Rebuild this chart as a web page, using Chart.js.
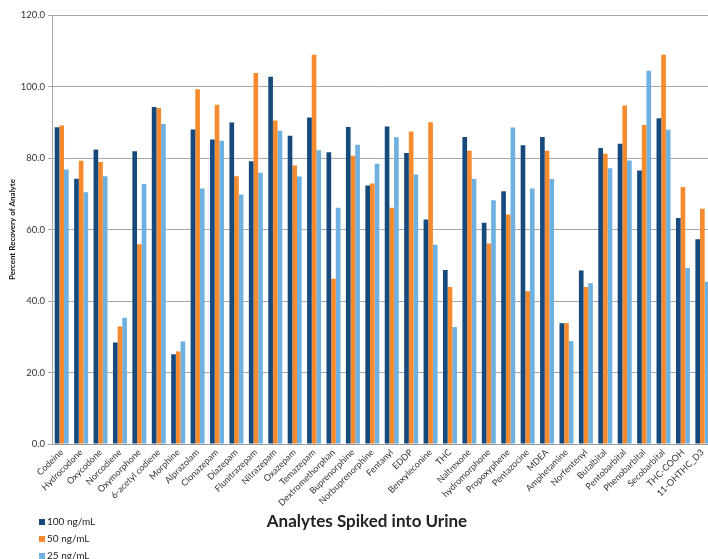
<!DOCTYPE html>
<html>
<head>
<meta charset="utf-8">
<script src="https://cdn.jsdelivr.net/npm/chart.js@4.4.1/dist/chart.umd.min.js"></script>
<style>
  html, body { margin: 0; padding: 0; background: #fff; overflow: hidden; width: 708px; height: 559px; }
  #wrap { position: absolute; left: 0; top: 0; width: 713px; height: 559px; }
  #legend { position: absolute; left: 39px; top: 515px; font-family: Lato, "Liberation Sans", sans-serif; font-size: 10px; color: #222; }
  .item { position: absolute; left: 0; white-space: nowrap; height: 12px; line-height: 12px; }
  .box { display: inline-block; width: 6px; height: 6px; margin-right: 2px; vertical-align: 0px; }
</style>
</head>
<body>
<div id="wrap"><canvas id="c"></canvas></div>
<div id="legend"></div>
<script>
const categories = ["Codeine","Hydrocodone","Oxycodone","Norcodiene","Oxymorphone","6-acetyl codiene","Morphine","Alprazolam","Clonazepam","Diazepam","Flunitrazepam","Nitrazepam","Oxazepam","Temazepam","Dextromethorphan","Buprenorphine","Norbuprenorphine","Fentanyl","EDDP","Benxyleconine","THC","Naltrexone","hydromorphone","Propoxyphene","Pentazocine","MDEA","Amphetamine","Norfentenyl","Butalbital","Pentobarbital","Phenobarbital","Secobarbital","THC-COOH","11-OHTHC_D3"];
const seriesNames = ["100 ng/mL","50 ng/mL","25 ng/mL"];
const s100 = [88.6,74.2,82.4,28.4,81.9,94.3,25.1,88.0,85.2,89.9,79.1,102.7,86.2,91.3,81.6,88.7,72.3,88.8,81.4,62.8,48.7,85.9,61.9,70.7,83.6,85.9,33.8,48.5,82.8,84.0,76.5,91.1,63.2,57.3];
const s50 = [89.1,79.2,78.9,32.9,55.9,94.0,25.9,99.2,94.9,74.9,103.8,90.5,77.9,108.9,46.2,80.6,72.9,66.1,87.4,90.0,43.9,82.0,56.1,64.2,42.7,82.0,33.8,43.9,81.2,94.7,89.2,108.9,71.9,65.8];
const s25 = [76.8,70.4,74.9,35.3,72.7,89.5,28.7,71.5,84.8,69.8,75.9,87.6,74.8,82.2,66.1,83.7,78.4,85.8,75.4,55.7,32.7,74.1,68.2,88.5,71.5,74.1,28.8,45.0,77.1,79.3,104.4,87.9,49.2,45.4];
const yTicks = [0,20,40,60,80,100,120];
const colors = ["#174a7c","#f68a2e","#6eb0df"];
const xTitle = 'Analytes Spiked into Urine';

const FONT = "Lato, 'Liberation Sans', sans-serif";

const xTitlePlugin = {
  id: 'xTitle',
  afterDraw(chart) {
    const ctx = chart.ctx;
    ctx.save();
    ctx.font = 'bold 17px ' + FONT;
    ctx.fillStyle = '#222';
    ctx.textAlign = 'center';
    ctx.textBaseline = 'middle';
    ctx.fillText(xTitle, 367, 522);
    ctx.restore();
  }
};

const chart = new Chart(document.getElementById('c'), {
  type: 'bar',
  data: {
    labels: categories,
    datasets: [s100, s50, s25].map((d, i) => ({
      label: seriesNames[i],
      data: d,
      backgroundColor: colors[i],
      borderWidth: 0,
      barPercentage: 1.0,
      categoryPercentage: 0.72
    }))
  },
  plugins: [xTitlePlugin],
  options: {
    responsive: true,
    maintainAspectRatio: false,
    animation: false,
    devicePixelRatio: 1,
    layout: { padding: { top: 15, right: 0, bottom: 0, left: 0 } },
    plugins: { legend: { display: false }, tooltip: { enabled: false } },
    scales: {
      x: {
        grid: { display: true, drawOnChartArea: false, drawTicks: false },
        border: { display: true, color: '#9a9a9a', width: 1 },
        ticks: {
          autoSkip: false, minRotation: 45, maxRotation: 45, padding: 3,
          color: '#333', font: { family: FONT, size: 9 }
        },
        title: { display: false },
        afterFit: (s) => { s.height = 115; }
      },
      y: {
        min: 0, max: 120,
        afterBuildTicks: (s) => { s.ticks = yTicks.map(v => ({ value: v })); },
        grid: { color: '#a8a8a8', lineWidth: 1, tickLength: 4, drawTicks: true },
        border: { display: true, color: '#a8a8a8', width: 1 },
        ticks: {
          padding: 3, color: '#333', font: { family: FONT, size: 9.5 },
          callback: (v) => Number(v).toFixed(1)
        },
        title: {
          display: true, text: 'Percent Recovery of Analyte',
          color: '#111', font: { family: FONT, size: 8, weight: 'bold' },
          padding: { top: 8, bottom: 0 }
        },
        afterFit: (s) => { s.width = 52; }
      }
    }
  }
});

const leg = document.getElementById('legend');
seriesNames.forEach((n, i) => {
  const d = document.createElement('div');
  d.className = 'item';
  d.style.top = (i * 17) + 'px';
  d.innerHTML = '<span class="box" style="background:' + colors[i] + '"></span>' + n;
  leg.appendChild(d);
});
</script>
</body>
</html>
